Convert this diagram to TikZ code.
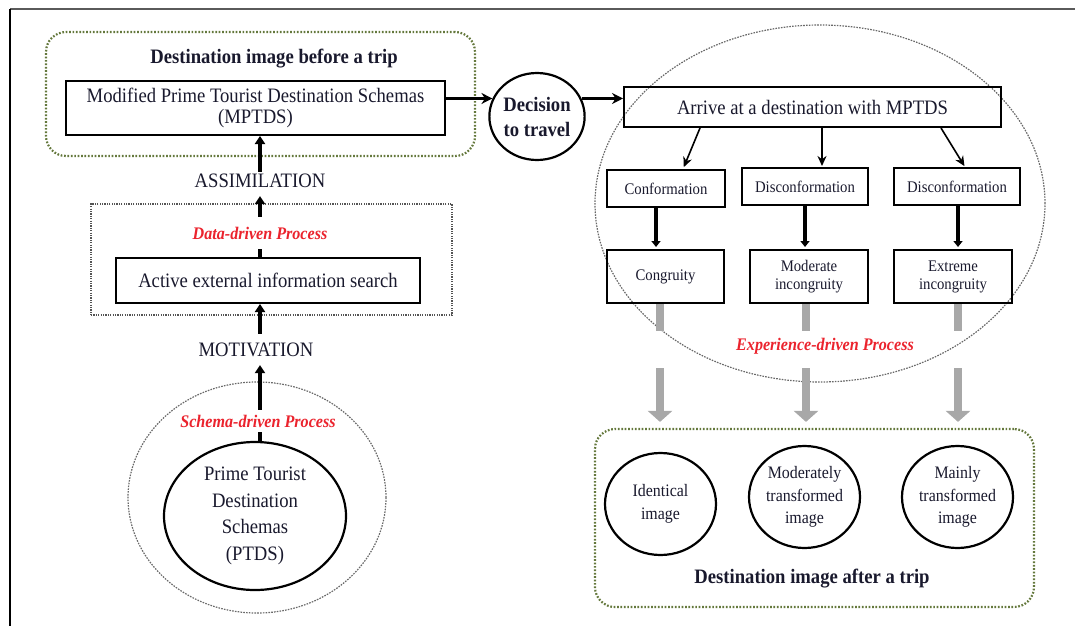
\documentclass[tikz,border=0pt]{standalone}
\usepackage{fontspec}
\setmainfont{Liberation Serif}[FakeStretch=0.91]
\usetikzlibrary{shapes.geometric,arrows.meta}
\definecolor{txt}{RGB}{25,25,45}
\definecolor{redlab}{RGB}{235,35,45}
\definecolor{olivedot}{RGB}{100,120,60}
\definecolor{graydot}{RGB}{105,105,105}
\definecolor{grayarrow}{RGB}{168,168,168}
\definecolor{framegray}{RGB}{90,90,90}
\tikzset{
 every node/.style={text=txt},
 mainbox/.style={draw=black, line width=2pt, inner sep=0pt, align=center, font=\fontsize{20.5}{21}\selectfont},
 smallbox/.style={draw=black, line width=2pt, inner sep=0pt, align=center, font=\fontsize{16.2}{18}\selectfont},
 ringnode/.style={draw=black, line width=2.2pt, ellipse, inner sep=0pt, align=center},
 plainlab/.style={font=\fontsize{20.5}{21}\selectfont, inner sep=2pt},
 titlelab/.style={font=\bfseries\fontsize{20.5}{21}\selectfont, inner sep=2pt},
 redlabel/.style={text=redlab, font=\bfseries\itshape\fontsize{17.7}{19}\selectfont},
 olivebox/.style={draw=olivedot, line width=2.2pt, dash pattern=on 1.7pt off 1.7pt, rounded corners=20pt, inner sep=0pt},
 greybox/.style={draw=graydot!80!black, line width=1.5pt, dash pattern=on 1.2pt off 1.2pt, inner sep=0pt},
 greyring/.style={draw=graydot, line width=1.2pt, dash pattern=on 1.6pt off 1.2pt, ellipse, inner sep=0pt},
 bigarrow/.style={line width=4pt, -{Triangle[length=8pt,width=10pt]}},
 medarrow/.style={line width=2.5pt, -{Stealth[length=11pt,width=11pt]}},
 thinarrow/.style={line width=1.6pt, -{Stealth[length=10pt,width=9pt]}},
 thickarrow/.style={line width=3.5pt, -{Triangle[length=6pt,width=9pt]}},
 greyarrow/.style={draw=grayarrow, line width=7.5pt, -{Triangle[length=11pt,width=24pt]}, dash pattern=on 27pt off 37pt on 300pt},
}
\begin{document}
\begin{tikzpicture}[x=1pt,y=-1pt]
\useasboundingbox (0,0) rectangle (1075,626);
% frame
\draw[framegray, line width=2.5pt] (10,9) -- (1075,9);
\draw[black, line width=2pt] (10,9) -- (10,626);

% ---------- left column ----------
\node[olivebox, minimum width=429pt, minimum height=124pt] (topbox) at (260.5,94) {};
\node[titlelab] (toptitle) at (274,59) {Destination image before a trip};
\node[mainbox, minimum width=379pt, minimum height=54pt] (mptds) at (255.5,108) {Modified Prime Tourist Destination Schemas\\(MPTDS)};
\node[plainlab] (assim) at (260,181) {ASSIMILATION};
\node[greybox, minimum width=361pt, minimum height=111pt] (databox) at (271.5,259.5) {};
\node[mainbox, minimum width=304pt, minimum height=45pt] (active) at (268,280.5) {Active external information search};
\node[plainlab] (motiv) at (256,350) {MOTIVATION};
\node[greyring, minimum width=258pt, minimum height=231pt] (schring) at (257,497.5) {};
\node[ringnode, minimum width=182pt, minimum height=148pt, font=\fontsize{20.5}{26.7}\selectfont] (ptds) at (255,516) {Prime Tourist\\Destination\\Schemas\\(PTDS)};

\draw[bigarrow] (assim.north) -- (assim.north |- mptds.south);
\draw[bigarrow, shorten >=6pt] (active.north -| assim) -- (assim.south);
\draw[bigarrow, shorten <=7pt] (motiv.north -| assim) -- (active.south -| assim);
\draw[bigarrow, shorten >=6pt] (ptds.north -| assim) -- (motiv.south -| assim);
\node[redlabel, fill=white, inner ysep=10pt] (datalab) at (260,233) {Data-driven Process};
\node[redlabel, fill=white, inner ysep=5pt] (schlab) at (258,421) {Schema-driven Process};

% ---------- decision ----------
\node[ringnode, minimum width=88pt, minimum height=87pt, font=\bfseries\fontsize{20.5}{25}\selectfont] (decision) at (537,116.5) {Decision\\to travel};
\draw[medarrow] (mptds.east |- decision.158) -- (decision.158);

% ---------- right part ----------
\node[greyring, minimum width=450pt, minimum height=357pt] (expring) at (820,203.5) {};
\node[mainbox, minimum width=377pt, minimum height=40pt] (arrive) at (812.5,107) {Arrive at a destination with MPTDS};
\draw[medarrow] (decision.22) -- (decision.22 -| arrive.west);

\node[smallbox, minimum width=118pt, minimum height=37pt] (conf) at (666,188.5) {Conformation};
\node[smallbox, minimum width=126pt, minimum height=37pt] (dmid) at (805,186.5) {Disconformation};
\node[smallbox, minimum width=126pt, minimum height=37pt] (dright) at (957,186.5) {Disconformation};
\node[smallbox, minimum width=117pt, minimum height=53pt] (cong) at (665.5,276.5) {Congruity};
\node[smallbox, minimum width=118pt, minimum height=53pt] (moder) at (809,276.5) {Moderate\\incongruity};
\node[smallbox, minimum width=118pt, minimum height=53pt] (extr) at (953,276.5) {Extreme\\incongruity};

\draw[thinarrow, shorten >=2pt] ([xshift=77pt]arrive.south west) -- ([xshift=17pt]conf.north);
\draw[thinarrow, shorten >=1pt] ([xshift=9.5pt]arrive.south) -- ([xshift=17pt]dmid.north);
\draw[thinarrow, shorten >=1pt] ([xshift=-61pt]arrive.south east) -- ([xshift=8pt]dright.north);

\draw[thickarrow, shorten >=2pt] ([xshift=-10pt]conf.south) -- ([xshift=-10pt]conf.south |- cong.north);
\draw[thickarrow, shorten >=2pt] (dmid.south) -- (dmid.south |- moder.north);
\draw[thickarrow, shorten >=2pt] ([xshift=1pt]dright.south) -- ([xshift=1pt]dright.south |- extr.north);

\node[redlabel] (explab) at (825,346) {Experience-driven Process};

\node[olivebox, minimum width=439pt, minimum height=178pt] (botbox) at (814.5,518) {};
\node[ringnode, minimum width=111pt, minimum height=102pt, font=\fontsize{17.5}{22.5}\selectfont] (ident) at (660.5,504) {Identical\\image};
\node[ringnode, minimum width=111pt, minimum height=102pt, font=\fontsize{17.5}{22.5}\selectfont] (modimg) at (804.5,497) {Moderately\\transformed\\image};
\node[ringnode, minimum width=111pt, minimum height=102pt, font=\fontsize{17.5}{22.5}\selectfont] (mainimg) at (957.5,497) {Mainly\\transformed\\image};
\node[titlelab] (bottitle) at (812,579) {Destination image after a trip};

\draw[greyarrow, shorten >=6pt] ([xshift=-5.5pt]cong.south) -- ([xshift=-5.5pt]cong.south |- botbox.north);
\draw[greyarrow, shorten >=6pt] ([xshift=-3pt]moder.south) -- ([xshift=-3pt]moder.south |- botbox.north);
\draw[greyarrow, shorten >=6pt] ([xshift=5pt]extr.south) -- ([xshift=5pt]extr.south |- botbox.north);
\end{tikzpicture}
\end{document}
